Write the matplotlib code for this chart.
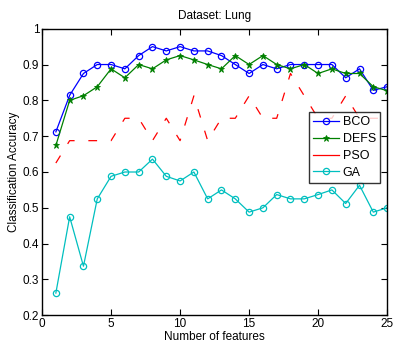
import matplotlib
matplotlib.use("Agg")
import matplotlib.pyplot as plt

plt.rcParams['font.family'] = ['Liberation Sans', 'DejaVu Sans']

features = list(range(1, 26))

bco = [0.712, 0.814, 0.875, 0.900, 0.900, 0.888, 0.925, 0.950, 0.938, 0.950,
       0.938, 0.938, 0.925, 0.900, 0.875, 0.900, 0.888, 0.900, 0.900, 0.900,
       0.900, 0.863, 0.888, 0.828, 0.838]
defs = [0.674, 0.800, 0.813, 0.838, 0.888, 0.863, 0.900, 0.888, 0.913, 0.925,
        0.913, 0.900, 0.888, 0.925, 0.900, 0.925, 0.900, 0.888, 0.900, 0.875,
        0.888, 0.875, 0.875, 0.838, 0.827]
pso = [0.625, 0.6875, 0.6875, 0.6875, 0.6875, 0.75, 0.75, 0.6875, 0.75, 0.6875,
       0.8125, 0.6875, 0.75, 0.75, 0.8125, 0.75, 0.75, 0.875, 0.8125, 0.75,
       0.75, 0.8125, 0.75, 0.75, 0.75]
ga = [0.262, 0.475, 0.337, 0.525, 0.588, 0.600, 0.600, 0.636, 0.588, 0.575,
      0.600, 0.525, 0.550, 0.525, 0.488, 0.500, 0.537, 0.525, 0.525, 0.537,
      0.550, 0.512, 0.563, 0.488, 0.500]

xticks = [0, 5, 10, 15, 20, 25]
yticks = [0.2, 0.3, 0.4, 0.5, 0.6, 0.7, 0.8, 0.9, 1.0]
ytick_labels = ['0.2', '0.3', '0.4', '0.5', '0.6', '0.7', '0.8', '0.9', '1']

fig = plt.figure(figsize=(3.93, 3.48), dpi=100)
ax = fig.add_axes([0.107, 0.094, 0.878, 0.8235])

lw = 0.9
ax.plot(features, bco, color=(0, 0, 1), lw=lw, marker='o', ms=4.5,
        mfc='none', mew=0.9, label='BCO')
ax.plot(features, defs, color=(0, 0.5, 0), lw=lw, marker='*', ms=5,
        mew=0.6, label='DEFS')
ax.plot(features, pso, color=(1, 0, 0), lw=lw, ls=(0, (7, 11)), label='PSO')
ax.plot(features, ga, color=(0, 0.75, 0.75), lw=lw, marker='o', ms=4.5,
        mfc='none', mew=0.9, label='GA')

ax.set_xlim(0, 25)
ax.set_ylim(0.2, 1.0)
ax.set_xticks(xticks)
ax.set_yticks(yticks)
ax.set_yticklabels(ytick_labels)
ax.tick_params(direction='in', top=True, right=True, length=4, width=0.8,
               labelsize=8.5, pad=2)
for s in ax.spines.values():
    s.set_linewidth(1.0)

ax.set_title('Dataset: Lung', fontsize=8.5, pad=7)
ax.set_xlabel('Number of features', fontsize=8.5, labelpad=1)
ax.set_ylabel('Classification Accuracy', fontsize=8.5, labelpad=2)

leg = ax.legend(loc='upper right', bbox_to_anchor=(0.98, 0.709),
                fontsize=9, frameon=True, fancybox=False, handlelength=2.1,
                handletextpad=0.25, borderpad=0.35, labelspacing=0.38,
                borderaxespad=0)
leg.get_frame().set_edgecolor('black')
leg.get_frame().set_linewidth(1.0)
# the short legend sample reads better as a continuous stroke
leg.get_lines()[2].set_linestyle('-')

fig.savefig('out.png', dpi=100)
